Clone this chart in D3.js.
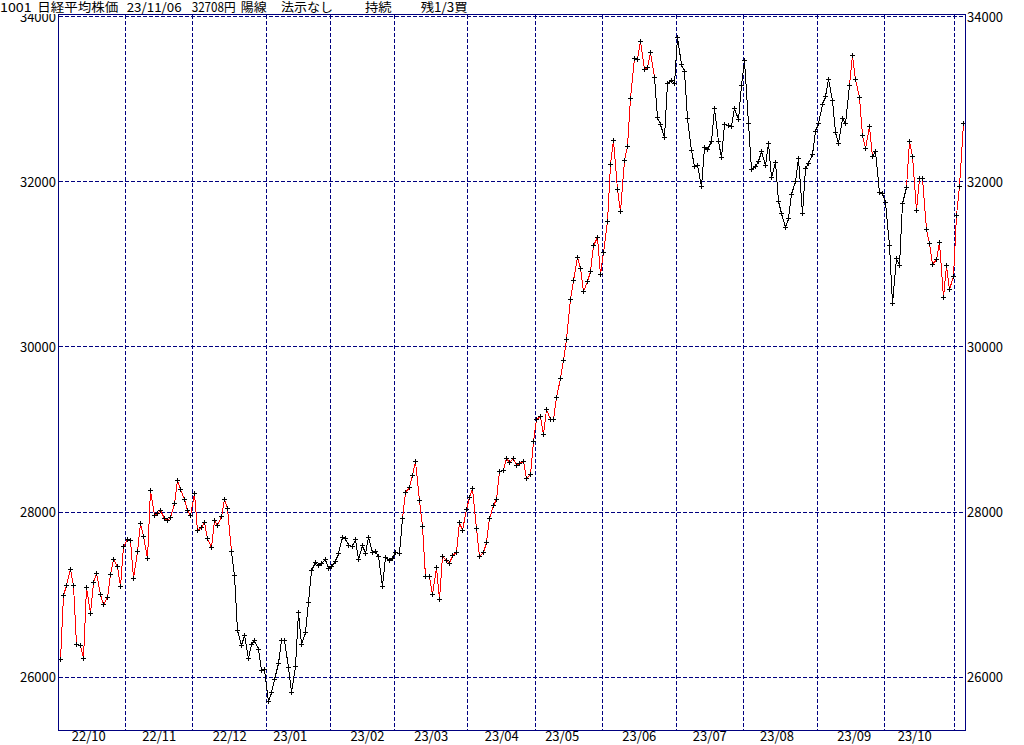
<!DOCTYPE html>
<html><head><meta charset="utf-8">
<script src="https://cdn.jsdelivr.net/npm/d3@7"></script>
<style>body{margin:0;background:#fff}svg{display:block}</style>
</head><body><svg id="c" width="1024" height="745"></svg>
<script>
const titleParts = ["1001", "日経平均株価", "23/11/06", "32708円", "陽線", "法示なし", "持続", "残1/3買"];
const months = ["22/10","22/11","22/12","23/01","23/02","23/03","23/04","23/05","23/06","23/07","23/08","23/09","23/10","23/11"];
const monthDays = [
  [3,4,5,6,7,11,12,13,14,17,18,19,20,21,24,25,26,27,28,31],
  [1,2,4,7,8,9,10,11,14,15,16,17,18,21,22,24,25,28,29,30],
  [1,2,5,6,7,8,9,12,13,14,15,16,19,20,21,22,23,26,27,28,29,30],
  [4,5,6,10,11,12,13,16,17,18,19,20,23,24,25,26,27,30,31],
  [1,2,3,6,7,8,9,10,13,14,15,16,17,20,21,22,24,27,28],
  [1,2,3,6,7,8,9,10,13,14,15,16,17,20,22,23,24,27,28,29,30,31],
  [3,4,5,6,7,10,11,12,13,14,17,18,19,20,21,24,25,26,27,28],
  [1,2,8,9,10,11,12,15,16,17,18,19,22,23,24,25,26,29,30,31],
  [1,2,5,6,7,8,9,12,13,14,15,16,19,20,21,22,23,26,27,28,29,30],
  [3,4,5,6,7,10,11,12,13,14,18,19,20,21,24,25,26,27,28,31],
  [1,2,3,4,7,8,9,10,14,15,16,17,18,21,22,23,24,25,28,29,30,31],
  [1,4,5,6,7,8,11,12,13,14,15,19,20,21,22,25,26,27,28,29],
  [2,3,4,5,6,10,11,12,13,16,17,18,19,20,23,24,25,26,27,30,31],
  [1,2,6]
];
const closes = [
  26215.79,26992.21,27120.53,27311.30,27116.11,26401.25,26396.83,26237.42,27090.76,26775.79,27156.14,27257.38,27006.96,26890.58,26974.90,27250.28,27431.84,27345.24,27105.20,27587.46,
  27678.92,27663.39,27199.74,27527.64,27872.11,27716.43,27446.10,28263.57,27963.47,27990.17,28028.30,27930.57,27899.77,27944.79,28115.74,28383.09,28283.03,28162.83,28027.84,27968.99,
  28226.08,27777.90,27820.40,27885.87,27686.40,27574.43,27901.01,27842.33,27954.85,28156.21,28051.70,27527.12,27237.64,26568.03,26387.72,26507.87,26235.25,26405.87,26447.87,26340.50,26093.67,26094.50,
  25716.86,25820.80,25973.85,26175.56,26446.00,26449.61,26119.52,25822.32,26138.68,26791.12,26405.23,26553.53,26906.04,27299.19,27395.01,27362.75,27382.56,27433.40,27327.11,
  27346.88,27402.05,27509.46,27693.65,27685.47,27606.46,27584.35,27670.98,27427.32,27602.77,27501.86,27696.44,27513.13,27531.94,27473.10,27104.32,27453.48,27423.96,27445.56,
  27516.53,27498.87,27927.47,28237.78,28309.16,28444.19,28623.15,28143.97,27832.96,27222.04,27229.48,27010.61,27333.79,26945.67,27466.61,27419.61,27385.25,27476.87,27518.25,27883.78,27782.93,28041.48,
  28188.15,28287.42,27813.26,27472.63,27518.31,27633.66,27923.37,28082.70,28156.97,28493.47,28514.78,28658.83,28606.76,28657.57,28564.37,28593.52,28620.07,28416.47,28457.68,28856.44,
  29123.18,29157.95,28949.88,29242.82,29122.18,29126.72,29388.30,29626.34,29842.99,30093.59,30573.93,30808.35,31086.82,30957.77,30682.68,30801.13,30916.31,31233.54,31328.16,30887.88,
  31148.01,31524.22,32217.43,32506.78,31913.74,31641.27,32265.17,32434.00,33018.65,33502.42,33485.49,33706.08,33370.42,33388.91,33575.14,33264.88,32781.54,32698.81,32538.33,33193.99,33234.14,33189.04,
  33753.33,33422.52,33338.70,32773.02,32388.42,32189.73,32203.57,31943.93,32419.33,32391.26,32493.89,32896.03,32490.52,32304.25,32700.69,32682.51,32668.34,32891.16,32759.23,33172.22,
  33476.58,32707.69,32159.28,32192.75,32254.56,32377.29,32204.33,32473.65,32059.91,32238.89,31766.82,31626.00,31450.76,31565.64,31856.71,32010.26,32287.21,31624.28,32169.99,32226.97,32333.46,32619.34,
  32710.62,32939.18,33036.76,33241.02,32991.08,32606.84,32467.76,32776.37,32706.52,33168.10,33533.09,33242.59,33023.78,32571.03,32402.41,32678.62,32315.05,32371.90,31872.52,31857.62,
  31759.88,31237.94,30526.88,31075.36,30994.67,31746.53,31936.51,32494.66,32315.99,31659.03,32040.29,32042.25,31430.62,31259.36,30999.55,31062.35,31269.92,30601.78,30991.69,30696.96,30858.85,
  31601.65,31949.89,32708.48
];
const yTicks = [26000, 28000, 30000, 32000, 34000];
const holdPeriods = [["22/10/03","22/12/15"],["23/03/03","23/06/21"],["23/09/14","23/09/25"],["23/10/11","23/11/06"]];

// ---- layout ----
const svg = d3.select("#c");
const plot = {left:58.5, right:965.5, top:14.5, bottom:730.5};
const navy = "#000080";
const font = "'Noto Sans CJK JP', 'Noto Sans', sans-serif";

const dates = [], monthStart = [], labelIdx = [];
months.forEach((m, mi) => {
  monthStart.push(dates.length);
  let lab = null;
  monthDays[mi].forEach(d => {
    if (lab === null && d >= 16) lab = dates.length;
    dates.push(m + "/" + String(d).padStart(2, "0"));
  });
  labelIdx.push(lab);
});

const n = closes.length;
const step = 3.3575;
const x = d3.scaleLinear().domain([0, n - 1]).range([59.5, 59.5 + (n - 1) * step]);
const y = d3.scaleLinear().domain([26000, 34000]).range([677.3, 16.5]);
const px = v => Math.round(v) + 0.5;

// clip for labels that would run into the title strip
svg.append("defs").append("clipPath").attr("id", "belowTitle")
  .append("rect").attr("x", 0).attr("y", 14).attr("width", 1024).attr("height", 731);

// grid
const grid = svg.append("g").attr("shape-rendering", "crispEdges")
  .attr("stroke", navy).attr("stroke-width", 1).attr("stroke-dasharray", "4,2");
grid.selectAll(".hg").data(yTicks).join("line")
  .attr("x1", plot.left).attr("x2", plot.right)
  .attr("y1", d => px(y(d) - 0.5)).attr("y2", d => px(y(d) - 0.5));
grid.selectAll(".vg").data(monthStart.slice(1)).join("line")
  .attr("x1", d => px(x(d - 0.5))).attr("x2", d => px(x(d - 0.5)))
  .attr("y1", plot.top).attr("y2", plot.bottom);

// data line, colored by holding state
const isHold = k => holdPeriods.some(p => k >= p[0] && k <= p[1]);
const runs = [];
for (let i = 0; i < n - 1; i++) {
  const c = isHold(dates[i]);
  if (runs.length && runs[runs.length - 1].hold === c) runs[runs.length - 1].idx.push(i + 1);
  else runs.push({hold: c, idx: [i, i + 1]});
}
const line = d3.line().x(i => Math.round(x(i)) + 0.5).y(i => Math.round(y(closes[i])) + 0.5);
svg.append("g").attr("shape-rendering", "crispEdges").selectAll("path").data(runs).join("path")
  .attr("d", r => line(r.idx)).attr("fill", "none")
  .attr("stroke", r => r.hold ? "#ff0000" : "#000000").attr("stroke-width", 1);

// markers
svg.append("g").attr("shape-rendering", "crispEdges").selectAll("path").data(closes).join("path")
  .attr("d", (v, i) => {
    const rx = Math.round(x(i)), ry = Math.round(y(v));
    return `M${rx - 2},${ry + 0.5}h5M${rx + 0.5},${ry - 2}v5`;
  })
  .attr("stroke", "#000").attr("stroke-width", 1).attr("fill", "none");

// frame
svg.append("rect").attr("x", plot.left).attr("y", plot.top)
  .attr("width", plot.right - plot.left).attr("height", plot.bottom - plot.top)
  .attr("fill", "none").attr("stroke", navy).attr("stroke-width", 1).attr("shape-rendering", "crispEdges");

// y labels
const yl = svg.append("g").attr("font-family", font).attr("font-size", 13).attr("fill", "#000");
yl.append("g").attr("clip-path", "url(#belowTitle)").selectAll("text").data(yTicks).join("text")
  .attr("x", 56).attr("y", d => y(d) + 5).attr("text-anchor", "end").text(d => d);
yl.append("g").selectAll("text").data(yTicks).join("text")
  .attr("x", 967).attr("y", d => y(d) + 5).attr("text-anchor", "start").text(d => d);

// month labels
svg.append("g").attr("font-family", font).attr("font-size", 13).attr("fill", "#000")
  .selectAll("text").data(months.map((m, i) => ({m, i: labelIdx[i]})).filter(d => d.i !== null)).join("text")
  .attr("x", d => x(d.i) - 1).attr("y", 741).attr("text-anchor", "middle").text(d => d.m);

// title
const titleX = [0, 37.3, 126.7, 191.7, 240.7, 281, 365, 420.7];
const titleW = [31.7, 81, 55, 44, 26, 52, 26.7, 47];
svg.append("g").attr("font-family", font).attr("font-size", 12.5).attr("fill", "#000")
  .selectAll("text").data(titleParts).join("text")
  .attr("x", (d, i) => titleX[i]).attr("y", 12)
  .attr("textLength", (d, i) => titleW[i]).attr("lengthAdjust", "spacingAndGlyphs")
  .text(d => d);
</script>
</body></html>
